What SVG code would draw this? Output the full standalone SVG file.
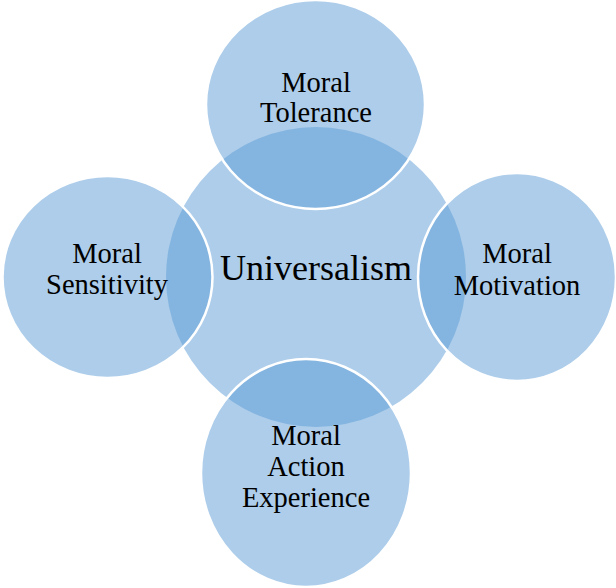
<svg xmlns="http://www.w3.org/2000/svg" width="616" height="588" viewBox="0 0 616 588">
<style>
.c{fill:#5b9bd5;fill-opacity:0.5;stroke:#ffffff;stroke-width:2.5}
.t{font-family:"Liberation Serif","Times New Roman",serif;font-size:28.5px;fill:#000;text-anchor:middle}
.m{font-size:36px}
</style>
<g id="connectors"></g>
<g id="center">
<ellipse class="c" cx="316" cy="277" rx="150" ry="150" style="stroke:none"/>
</g>
<g id="top">
<ellipse class="c" cx="315.5" cy="104.5" rx="109.5" ry="104.5"/>
</g>
<g id="left">
<ellipse class="c" cx="107.5" cy="277" rx="105" ry="101"/>
</g>
<g id="right">
<ellipse class="c" cx="517" cy="277" rx="99" ry="104"/>
</g>
<g id="bottom">
<ellipse class="c" cx="306" cy="473" rx="105" ry="114"/>
</g>
<g id="labels">
<text class="t m" x="316" y="280">Universalism</text>
<text class="t" x="316" y="92">Moral</text>
<text class="t" x="316" y="122">Tolerance</text>
<text class="t" x="107" y="263">Moral</text>
<text class="t" x="107" y="294">Sensitivity</text>
<text class="t" x="517" y="263">Moral</text>
<text class="t" x="517" y="295">Motivation</text>
<text class="t" x="306" y="445">Moral</text>
<text class="t" x="306" y="476">Action</text>
<text class="t" x="306" y="507">Experience</text>
</g>
</svg>
